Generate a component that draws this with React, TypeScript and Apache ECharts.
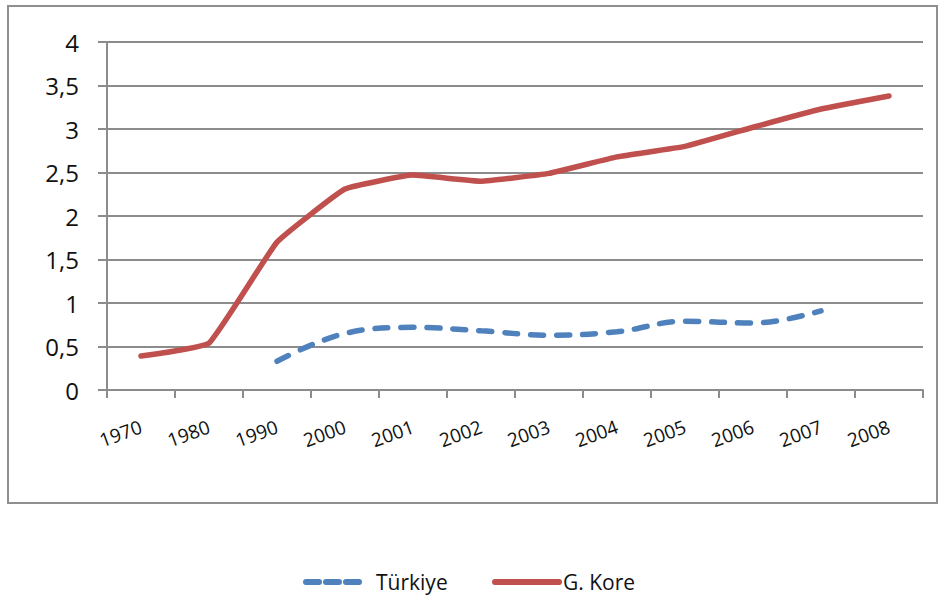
import React, { useEffect, useRef } from "react";
import * as echarts from "echarts";

const categories = ["1970", "1980", "1990", "2000", "2001", "2002", "2003", "2004", "2005", "2006", "2007", "2008"];
const turkiye: (number | null)[] = [null, null, 0.33, 0.65, 0.72, 0.68, 0.63, 0.67, 0.79, 0.77, 0.91, null];
const gKore: number[] = [0.39, 0.54, 1.7, 2.31, 2.47, 2.4, 2.49, 2.68, 2.8, 3.02, 3.23, 3.38];
const seriesNames = ["Türkiye", "G. Kore"];
const yTicks = { min: 0, max: 4, interval: 0.5 };

const FONT = "'Open Sans', 'Noto Sans', sans-serif";
const BLUE = "#4f81bd";
const RED = "#c0504d";
const TEXT = "#111111";

export default function App() {
  const ref = useRef<HTMLDivElement>(null);
  useEffect(() => {
    if (!ref.current) return;
    const chart = echarts.init(ref.current, null, { renderer: "svg" });
    chart.setOption({
      animation: false,
      backgroundColor: "#ffffff",
      grid: { left: 107, right: 16, top: 42, bottom: 206, containLabel: false },
      graphic: [
        {
          type: "rect",
          shape: { x: 8, y: 6, width: 929, height: 497 },
          style: { fill: "none", stroke: "#8f8f8f", lineWidth: 2 },
          silent: true,
        },
        {
          type: "line",
          shape: { x1: 306, y1: 582, x2: 360, y2: 582 },
          style: { stroke: BLUE, lineWidth: 6, lineDash: [13, 7], lineCap: "round" },
          silent: true,
        },
        {
          type: "text",
          x: 376,
          y: 582,
          style: {
            text: seriesNames[0],
            fontFamily: FONT,
            fontSize: 21,
            fill: TEXT,
            verticalAlign: "middle",
          },
          silent: true,
        },
        {
          type: "line",
          shape: { x1: 495, y1: 582, x2: 559, y2: 582 },
          style: { stroke: RED, lineWidth: 6, lineCap: "round" },
          silent: true,
        },
        {
          type: "text",
          x: 563,
          y: 582,
          style: {
            text: seriesNames[1],
            fontFamily: FONT,
            fontSize: 21,
            fill: TEXT,
            verticalAlign: "middle",
          },
          silent: true,
        },
      ],
      xAxis: {
        type: "category",
        data: categories,
        boundaryGap: true,
        axisLine: { lineStyle: { color: "#8c8c8c", width: 2 } },
        axisTick: { show: true, length: 8, lineStyle: { color: "#8c8c8c", width: 2 } },
        axisLabel: {
          rotate: 20,
          margin: 36,
          fontFamily: FONT,
          fontSize: 19,
          color: TEXT,
          interval: 0,
        },
      },
      yAxis: {
        type: "value",
        min: yTicks.min,
        max: yTicks.max,
        interval: yTicks.interval,
        axisLine: { show: true, lineStyle: { color: "#8c8c8c", width: 2 } },
        axisTick: { show: true, length: 9, lineStyle: { color: "#8c8c8c", width: 2 } },
        splitLine: { show: true, lineStyle: { color: "#8c8c8c", width: 2 } },
        axisLabel: {
          margin: 28,
          fontFamily: FONT,
          fontSize: 24,
          color: TEXT,
          formatter: (v: number) => String(v).replace(".", ","),
        },
      },
      series: [
        {
          name: seriesNames[0],
          type: "line",
          data: turkiye,
          smooth: 0.4,
          symbol: "none",
          connectNulls: false,
          lineStyle: { color: BLUE, width: 5.5, type: [13, 13], cap: "round" },
          itemStyle: { color: BLUE },
        },
        {
          name: seriesNames[1],
          type: "line",
          data: gKore,
          smooth: 0.1,
          symbol: "none",
          lineStyle: { color: RED, width: 5.5, cap: "round", join: "round" },
          itemStyle: { color: RED },
        },
      ],
    });
    return () => chart.dispose();
  }, []);
  return (
    <div
      ref={ref}
      style={{ position: "absolute", left: 0, top: 0, width: 939, height: 596 }}
    />
  );
}
